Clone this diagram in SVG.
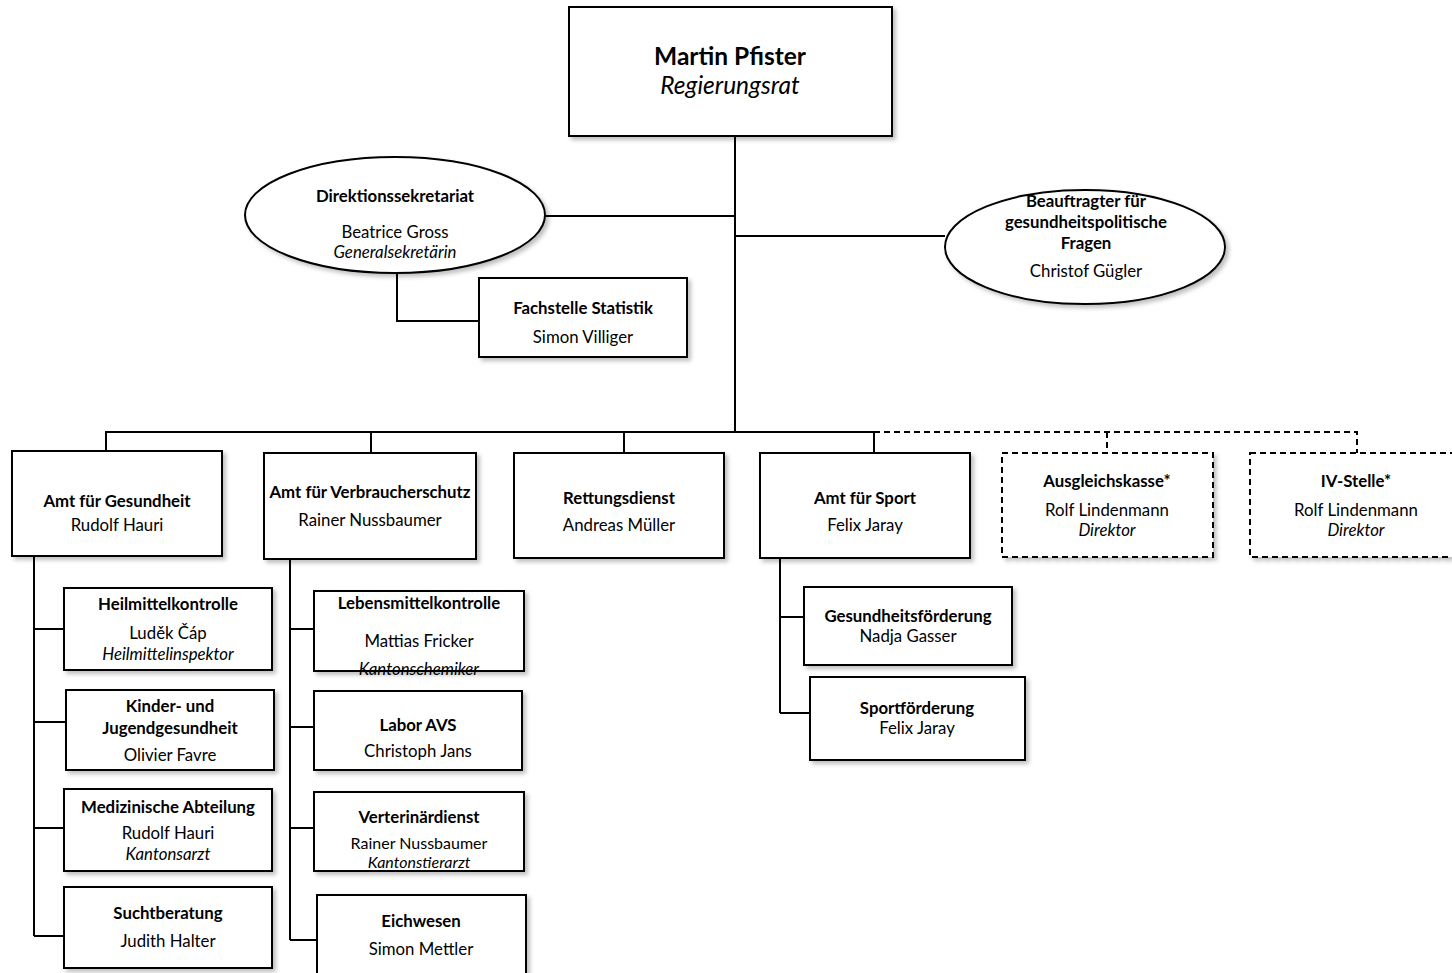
<svg xmlns="http://www.w3.org/2000/svg" width="1452" height="973" viewBox="0 0 1452 973">
<defs>
<filter id="sh" x="-10%" y="-10%" width="125%" height="130%">
<feDropShadow dx="3" dy="3" stdDeviation="2" flood-color="#000" flood-opacity="0.25"/>
</filter>
</defs>
<style>
.box{fill:#fff;stroke:#000;stroke-width:2;filter:url(#sh)}
.dbox{fill:#fff;stroke:#000;stroke-width:2;stroke-dasharray:6 4;filter:url(#sh)}
.ln{fill:none;stroke:#000;stroke-width:2}
.dln{fill:none;stroke:#000;stroke-width:2;stroke-dasharray:6 4}
text{font-family:Lato,"Open Sans",sans-serif;font-size:16.8px;text-anchor:middle;fill:#000}
.b{font-weight:bold}
.i{font-style:italic}
.big{font-size:24.5px}
.s{font-size:16px}
</style>
<g id="connectors">
<path class="ln" d="M735 136V432"/>
<path class="ln" d="M545 216H735"/>
<path class="ln" d="M735 236H945"/>
<path class="ln" d="M397 273V321H479"/>
<path class="ln" d="M106 451V432H874V452"/>
<path class="ln" d="M371 432V453M624 432V453"/>
<path class="dln" d="M874 432H1357V453M1107 432V453"/>
<path class="ln" d="M34 556V936M34 629H64M34 722H66M34 828H64M34 936H64"/>
<path class="ln" d="M290 559V940M290 629H314M290 727H314M290 828H314M290 940H317"/>
<path class="ln" d="M780 558V713M780 617H804M780 713H810"/>
</g>
<g id="n-pfister"><rect class="box" x="569" y="7" width="323" height="129"/>
<text class="b big" x="730" y="65">Martin Pfister</text><text class="i big" x="730" y="94">Regierungsrat</text></g>
<g id="n-sekretariat"><ellipse class="box" cx="395" cy="215" rx="150" ry="58"/>
<text class="b" x="395" y="202">Direktionssekretariat</text><text x="395" y="238">Beatrice Gross</text><text class="i" x="395" y="258">Generalsekretärin</text></g>
<g id="n-statistik"><rect class="box" x="479" y="278" width="208" height="79"/>
<text class="b" x="583" y="314">Fachstelle Statistik</text><text x="583" y="343">Simon Villiger</text></g>
<g id="n-beauftragter"><ellipse class="box" cx="1085" cy="247" rx="140" ry="57"/>
<text class="b" x="1086" y="207">Beauftragter für</text><text class="b" x="1086" y="228">gesundheitspolitische</text><text class="b" x="1086" y="249">Fragen</text><text x="1086" y="277">Christof Gügler</text></g>
<g id="n-gesundheit"><rect class="box" x="12" y="451" width="210" height="105"/>
<text class="b" x="117" y="507">Amt für Gesundheit</text><text x="117" y="531">Rudolf Hauri</text></g>
<g id="n-verbraucher"><rect class="box" x="264" y="453" width="212" height="106"/>
<text class="b" x="370" y="498">Amt für Verbraucherschutz</text><text x="370" y="526">Rainer Nussbaumer</text></g>
<g id="n-rettung"><rect class="box" x="514" y="453" width="210" height="105"/>
<text class="b" x="619" y="504">Rettungsdienst</text><text x="619" y="531">Andreas Müller</text></g>
<g id="n-sport"><rect class="box" x="760" y="453" width="210" height="105"/>
<text class="b" x="865" y="504">Amt für Sport</text><text x="865" y="531">Felix Jaray</text></g>
<g id="n-ausgleich"><rect class="dbox" x="1002" y="453" width="211" height="104"/>
<text class="b" x="1107" y="487">Ausgleichskasse*</text><text x="1107" y="516">Rolf Lindenmann</text><text class="i" x="1107" y="536">Direktor</text></g>
<g id="n-iv"><rect class="dbox" x="1250" y="453" width="212" height="104"/>
<text class="b" x="1356" y="487">IV-Stelle*</text><text x="1356" y="516">Rolf Lindenmann</text><text class="i" x="1356" y="536">Direktor</text></g>
<g id="n-heilmittel"><rect class="box" x="64" y="588" width="208" height="82"/>
<text class="b" x="168" y="610">Heilmittelkontrolle</text><text x="168" y="639">Luděk Čáp</text><text class="i" x="168" y="660">Heilmittelinspektor</text></g>
<g id="n-kinder"><rect class="box" x="66" y="690" width="208" height="80"/>
<text class="b" x="170" y="712">Kinder- und</text><text class="b" x="170" y="734">Jugendgesundheit</text><text x="170" y="761">Olivier Favre</text></g>
<g id="n-medizin"><rect class="box" x="64" y="789" width="208" height="82"/>
<text class="b" x="168" y="813">Medizinische Abteilung</text><text x="168" y="839">Rudolf Hauri</text><text class="i" x="168" y="860">Kantonsarzt</text></g>
<g id="n-sucht"><rect class="box" x="64" y="887" width="208" height="81"/>
<text class="b" x="168" y="919">Suchtberatung</text><text x="168" y="947">Judith Halter</text></g>
<g id="n-lebensmittel"><rect class="box" x="314" y="591" width="210" height="80"/>
<text class="b" x="419" y="609">Lebensmittelkontrolle</text><text x="419" y="647">Mattias Fricker</text><text class="i" x="419" y="675">Kantonschemiker</text></g>
<g id="n-labor"><rect class="box" x="314" y="691" width="208" height="79"/>
<text class="b" x="418" y="731">Labor AVS</text><text x="418" y="757">Christoph Jans</text></g>
<g id="n-veterinaer"><rect class="box" x="314" y="792" width="210" height="79"/>
<text class="b" x="419" y="823">Verterinärdienst</text><text class="s" x="419" y="849">Rainer Nussbaumer</text><text class="i s" x="419" y="868">Kantonstierarzt</text></g>
<g id="n-eichwesen"><rect class="box" x="317" y="895" width="209" height="85"/>
<text class="b" x="421" y="927">Eichwesen</text><text x="421" y="955">Simon Mettler</text></g>
<g id="n-gesfoerderung"><rect class="box" x="804" y="587" width="208" height="78"/>
<text class="b" x="908" y="622">Gesundheitsförderung</text><text x="908" y="642">Nadja Gasser</text></g>
<g id="n-sportfoerderung"><rect class="box" x="810" y="677" width="215" height="83"/>
<text class="b" x="917" y="714">Sportförderung</text><text x="917" y="734">Felix Jaray</text></g>
</svg>
